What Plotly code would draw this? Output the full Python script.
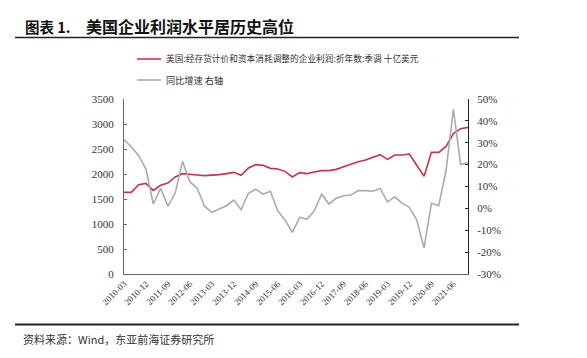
import plotly.graph_objects as go

quarters = [
    "2010-03", "2010-06", "2010-09", "2010-12", "2011-03", "2011-06", "2011-09", "2011-12",
    "2012-03", "2012-06", "2012-09", "2012-12", "2013-03", "2013-06", "2013-09", "2013-12",
    "2014-03", "2014-06", "2014-09", "2014-12", "2015-03", "2015-06", "2015-09", "2015-12",
    "2016-03", "2016-06", "2016-09", "2016-12", "2017-03", "2017-06", "2017-09", "2017-12",
    "2018-03", "2018-06", "2018-09", "2018-12", "2019-03", "2019-06", "2019-09", "2019-12",
    "2020-03", "2020-06", "2020-09", "2020-12", "2021-03", "2021-06", "2021-09", "2021-12",
]

profit = [
    1633, 1633, 1787, 1813, 1673, 1773, 1820, 1940,
    2007, 2000, 1980, 1967, 1973, 1987, 2007, 2033,
    1973, 2120, 2187, 2173, 2113, 2100, 2053, 1940,
    2027, 2007, 2040, 2067, 2067, 2093, 2147, 2200,
    2247, 2280, 2327, 2387, 2293, 2380, 2380, 2400,
    2175, 1953, 2433, 2433, 2553, 2807, 2907, 2933,
]

yoy = [
    31.4, 28.2, 24.1, 18.0, 2.0, 9.2, 1.0, 7.0,
    21.5, 12.1, 9.2, 1.0, -1.8, -0.2, 1.2, 3.8,
    -0.6, 6.9, 8.8, 6.5, 7.8, -1.1, -5.3, -11.0,
    -4.1, -5.0, -1.1, 6.5, 2.0, 4.6, 5.8, 6.1,
    8.1, 8.1, 7.8, 9.1, 3.0, 5.3, 2.3, 0.5,
    -5.3, -18.1, 2.3, 1.2, 17.2, 45.3, 20.0, 21.0,
]

x_tick_labels = [
    "2010-03", "2010-12", "2011-09", "2012-06", "2013-03", "2013-12", "2014-09", "2015-06",
    "2016-03", "2016-12", "2017-09", "2018-06", "2019-03", "2019-12", "2020-09", "2021-06",
]
left_ticks = [0, 500, 1000, 1500, 2000, 2500, 3000, 3500]
right_ticks = [-30, -20, -10, 0, 10, 20, 30, 40, 50]
right_tick_text = ["-30%", "-20%", "-10%", "0%", "10%", "20%", "30%", "40%", "50%"]

series_names = ["美国:经存货计价和资本消耗调整的企业利润:折年数:季调 十亿美元", "同比增速 右轴"]
title_prefix = "图表 1."
title_main = "美国企业利润水平居历史高位"
source_text = "资料来源：Wind，东亚前海证券研究所"

RED = "#C0364B"
GRAY = "#ABABAB"

W, H = 587, 358
PL, PR, PT, PB = 116, 460, 91, 266


def px(x):
    return (x - PL) / (PR - PL)


def py(y):
    return (PB - y) / (PB - PT)


fig = go.Figure()
fig.add_trace(go.Scatter(x=quarters, y=profit, mode="lines", name=series_names[0],
                         line=dict(color=RED, width=1.6), yaxis="y"))
fig.add_trace(go.Scatter(x=quarters, y=yoy, mode="lines", name=series_names[1],
                         line=dict(color=GRAY, width=1.6), yaxis="y2"))

serif = "Liberation Serif"
cjk = "Noto Sans CJK SC"

fig.update_layout(
    width=W, height=H,
    margin=dict(l=PL, r=W - PR, t=PT, b=H - PB, pad=0, autoexpand=False),
    paper_bgcolor="white", plot_bgcolor="white",
    showlegend=False,
    xaxis=dict(type="category", range=[0, len(quarters) - 1], tickmode="array",
               tickvals=x_tick_labels, ticktext=x_tick_labels, tickangle=-45,
               showline=True, linecolor="#666666", linewidth=1, ticks="",
               showgrid=False, zeroline=False, automargin=False,
               tickfont=dict(family=serif, size=9, color="#333333")),
    yaxis=dict(range=[0, 3500], tickmode="array", tickvals=left_ticks,
               showline=True, linecolor="#666666", linewidth=1,
               ticks="inside", ticklen=3, tickcolor="#666666",
               showgrid=False, zeroline=False, ticklabelstandoff=7, automargin=False,
               tickfont=dict(family=serif, size=11, color="#333333")),
    yaxis2=dict(range=[-30, 50], overlaying="y", side="right", tickmode="array",
                tickvals=right_ticks, ticktext=right_tick_text,
                showline=True, linecolor="#222222", linewidth=1,
                ticks="inside", ticklen=3, tickcolor="#222222",
                showgrid=False, zeroline=False, ticklabelstandoff=6, automargin=False,
                tickfont=dict(family=serif, size=11, color="#333333")),
)

shapes = [
    dict(type="line", xref="paper", yref="paper", x0=px(7), x1=px(511), y0=py(29.5), y1=py(29.5),
         line=dict(color="#222222", width=1.6)),
    dict(type="line", xref="paper", yref="paper", x0=px(7), x1=px(511), y0=py(316.5), y1=py(316.5),
         line=dict(color="#222222", width=2)),
    dict(type="line", xref="paper", yref="paper", x0=px(129), x1=px(153), y0=py(51), y1=py(51),
         line=dict(color=RED, width=1.6)),
    dict(type="line", xref="paper", yref="paper", x0=px(129), x1=px(153), y0=py(72), y1=py(72),
         line=dict(color=GRAY, width=1.6)),
]
fig.update_layout(shapes=shapes)

annotations = [
    dict(text="<b>" + title_prefix + "</b>", xref="paper", yref="paper", x=px(15), y=py(18.5),
         xanchor="left", yanchor="middle", showarrow=False,
         font=dict(family=cjk, size=14.5, color="#111111")),
    dict(text="<b>" + title_main + "</b>", xref="paper", yref="paper", x=px(76), y=py(18.5),
         xanchor="left", yanchor="middle", showarrow=False,
         font=dict(family=cjk, size=16, color="#111111")),
    dict(text=series_names[0], xref="paper", yref="paper", x=px(156), y=py(51),
         xanchor="left", yanchor="middle", showarrow=False,
         font=dict(family=cjk, size=8.7, color="#333333")),
    dict(text=series_names[1].replace(" ", "\u00a0"), xref="paper", yref="paper", x=px(156), y=py(72),
         xanchor="left", yanchor="middle", showarrow=False,
         font=dict(family=cjk, size=9.2, color="#333333")),
    dict(text=source_text, xref="paper", yref="paper", x=px(13), y=py(331),
         xanchor="left", yanchor="middle", showarrow=False,
         font=dict(family=cjk, size=11, color="#333333")),
]
fig.update_layout(annotations=annotations)

fig.write_html("out.html")
